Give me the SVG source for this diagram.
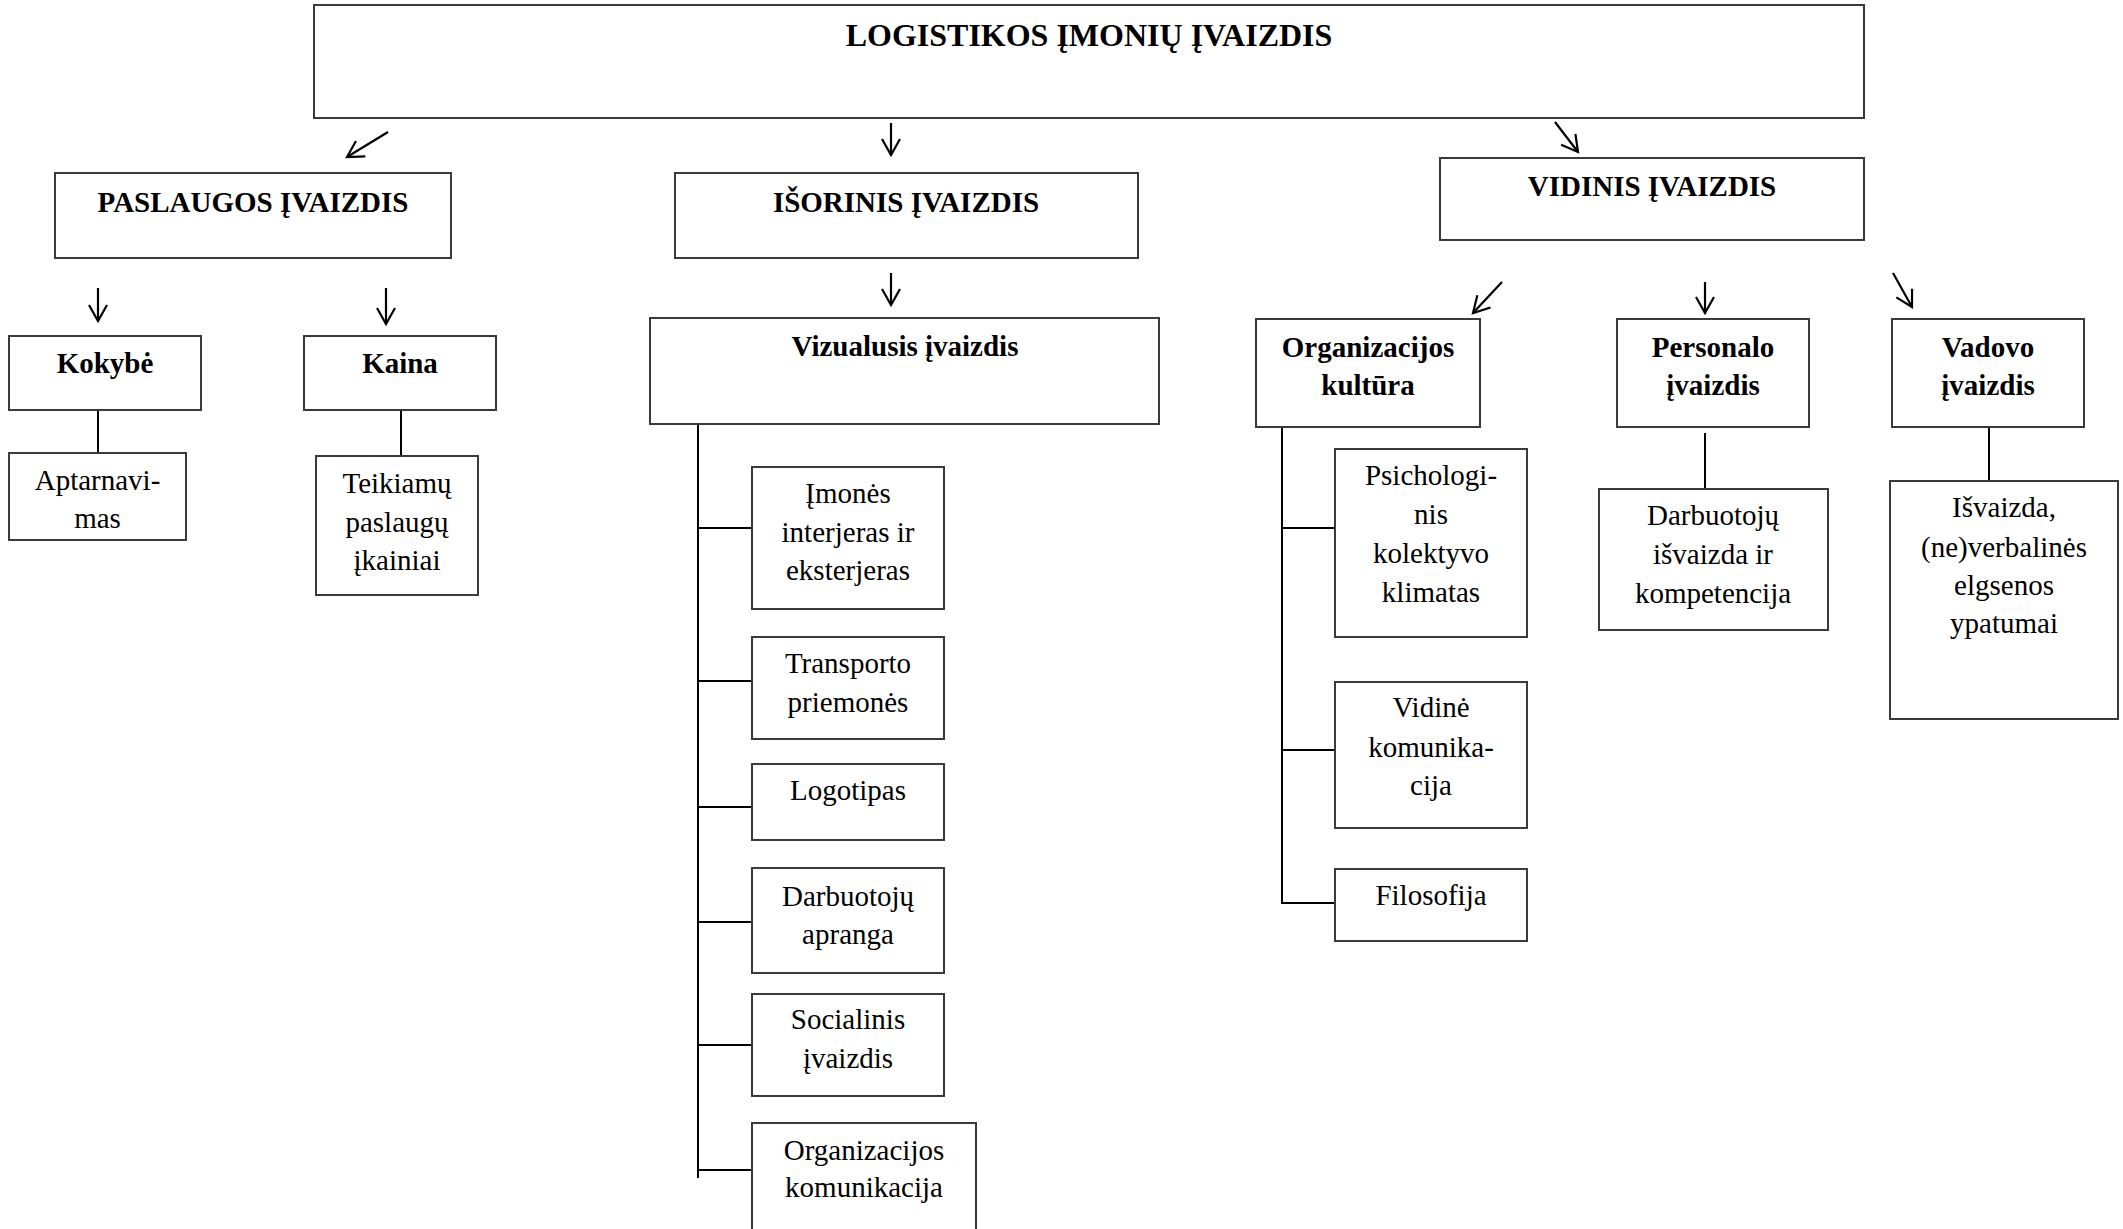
<svg xmlns="http://www.w3.org/2000/svg" width="2123" height="1229" viewBox="0 0 2123 1229">
  <style>
    .box { fill: #ffffff; stroke: #3a3a3a; stroke-width: 2; }
    .lbl { font-family: "Liberation Serif", "Times New Roman", serif; font-size: 29px; fill: #000; text-anchor: middle; }
    .b { font-weight: bold; }
    .title { font-size: 32px; }
    .wire { stroke: #000; stroke-width: 2; fill: none; }
    .arrow { stroke: #000; stroke-width: 2.2; fill: none; marker-end: url(#chev); }
  </style>
  <defs>
    <marker id="chev" markerUnits="userSpaceOnUse" markerWidth="40" markerHeight="40" refX="0" refY="0" viewBox="-20 -20 40 40" orient="auto" overflow="visible">
      <path d="M -16 -9 L 0 0 L -16 9" fill="none" stroke="#000" stroke-width="2.2" stroke-linejoin="miter"/>
    </marker>
  </defs>
  <rect width="2123" height="1229" fill="#ffffff"/>

  <!-- connectors -->
  <g id="connectors">
    <line class="arrow" x1="388" y1="132" x2="347" y2="157"/>
    <line class="arrow" x1="891" y1="123" x2="891" y2="155"/>
    <line class="arrow" x1="1555" y1="122" x2="1578" y2="152"/>
    <line class="arrow" x1="98" y1="288" x2="98" y2="321"/>
    <line class="arrow" x1="386" y1="288" x2="386" y2="324"/>
    <line class="arrow" x1="891" y1="273" x2="891" y2="305"/>
    <line class="arrow" x1="1502" y1="282" x2="1473" y2="313"/>
    <line class="arrow" x1="1705" y1="282" x2="1705" y2="313"/>
    <line class="arrow" x1="1893" y1="273" x2="1912" y2="307"/>

    <line class="wire" x1="98" y1="410" x2="98" y2="453"/>
    <line class="wire" x1="401" y1="410" x2="401" y2="456"/>

    <line class="wire" x1="698" y1="424" x2="698" y2="1178"/>
    <line class="wire" x1="698" y1="528" x2="752" y2="528"/>
    <line class="wire" x1="698" y1="681" x2="752" y2="681"/>
    <line class="wire" x1="698" y1="807" x2="752" y2="807"/>
    <line class="wire" x1="698" y1="922" x2="752" y2="922"/>
    <line class="wire" x1="698" y1="1045" x2="752" y2="1045"/>
    <line class="wire" x1="698" y1="1170" x2="752" y2="1170"/>

    <line class="wire" x1="1282" y1="427" x2="1282" y2="904"/>
    <line class="wire" x1="1282" y1="528" x2="1335" y2="528"/>
    <line class="wire" x1="1282" y1="750" x2="1335" y2="750"/>
    <line class="wire" x1="1282" y1="903" x2="1335" y2="903"/>

    <line class="wire" x1="1705" y1="433" x2="1705" y2="489"/>
    <line class="wire" x1="1989" y1="427" x2="1989" y2="481"/>
  </g>

  <!-- top level -->
  <g id="n-logistikos">
    <rect class="box" x="314" y="5" width="1550" height="113"/>
    <text class="lbl b title" x="1089" y="46">LOGISTIKOS ĮMONIŲ ĮVAIZDIS</text>
  </g>

  <!-- second level -->
  <g id="n-paslaugos">
    <rect class="box" x="55" y="173" width="396" height="85"/>
    <text class="lbl b" x="253" y="212">PASLAUGOS ĮVAIZDIS</text>
  </g>
  <g id="n-isorinis">
    <rect class="box" x="675" y="173" width="463" height="85"/>
    <text class="lbl b" x="906" y="212">IŠORINIS ĮVAIZDIS</text>
  </g>
  <g id="n-vidinis">
    <rect class="box" x="1440" y="158" width="424" height="82"/>
    <text class="lbl b" x="1652" y="196">VIDINIS ĮVAIZDIS</text>
  </g>

  <!-- service image branch -->
  <g id="n-kokybe">
    <rect class="box" x="9" y="336" width="192" height="74"/>
    <text class="lbl b" x="105" y="373">Kokybė</text>
  </g>
  <g id="n-kaina">
    <rect class="box" x="304" y="336" width="192" height="74"/>
    <text class="lbl b" x="400" y="373">Kaina</text>
  </g>
  <g id="n-aptarnavimas">
    <rect class="box" x="9" y="453" width="177" height="87"/>
    <text class="lbl" x="97.5" y="490">Aptarnavi-</text>
    <text class="lbl" x="97.5" y="528">mas</text>
  </g>
  <g id="n-ikainiai">
    <rect class="box" x="316" y="456" width="162" height="139"/>
    <text class="lbl" x="397" y="493">Teikiamų</text>
    <text class="lbl" x="397" y="532">paslaugų</text>
    <text class="lbl" x="397" y="570">įkainiai</text>
  </g>

  <!-- external image branch -->
  <g id="n-vizualusis">
    <rect class="box" x="650" y="318" width="509" height="106"/>
    <text class="lbl b" x="905" y="356">Vizualusis įvaizdis</text>
  </g>
  <g id="n-interjeras">
    <rect class="box" x="752" y="467" width="192" height="142"/>
    <text class="lbl" x="848" y="503">Įmonės</text>
    <text class="lbl" x="848" y="542">interjeras ir</text>
    <text class="lbl" x="848" y="580">eksterjeras</text>
  </g>
  <g id="n-transportas">
    <rect class="box" x="752" y="637" width="192" height="102"/>
    <text class="lbl" x="848" y="673">Transporto</text>
    <text class="lbl" x="848" y="712">priemonės</text>
  </g>
  <g id="n-logotipas">
    <rect class="box" x="752" y="764" width="192" height="76"/>
    <text class="lbl" x="848" y="800">Logotipas</text>
  </g>
  <g id="n-apranga">
    <rect class="box" x="752" y="868" width="192" height="105"/>
    <text class="lbl" x="848" y="906">Darbuotojų</text>
    <text class="lbl" x="848" y="944">apranga</text>
  </g>
  <g id="n-socialinis">
    <rect class="box" x="752" y="994" width="192" height="102"/>
    <text class="lbl" x="848" y="1029">Socialinis</text>
    <text class="lbl" x="848" y="1068">įvaizdis</text>
  </g>
  <g id="n-org-komunikacija">
    <rect class="box" x="752" y="1123" width="224" height="112"/>
    <text class="lbl" x="864" y="1160">Organizacijos</text>
    <text class="lbl" x="864" y="1197">komunikacija</text>
  </g>

  <!-- internal image branch -->
  <g id="n-kultura">
    <rect class="box" x="1256" y="319" width="224" height="108"/>
    <text class="lbl b" x="1368" y="357">Organizacijos</text>
    <text class="lbl b" x="1368" y="395">kultūra</text>
  </g>
  <g id="n-personalo">
    <rect class="box" x="1617" y="319" width="192" height="108"/>
    <text class="lbl b" x="1713" y="357">Personalo</text>
    <text class="lbl b" x="1713" y="395">įvaizdis</text>
  </g>
  <g id="n-vadovo">
    <rect class="box" x="1892" y="319" width="192" height="108"/>
    <text class="lbl b" x="1988" y="357">Vadovo</text>
    <text class="lbl b" x="1988" y="395">įvaizdis</text>
  </g>
  <g id="n-klimatas">
    <rect class="box" x="1335" y="449" width="192" height="188"/>
    <text class="lbl" x="1431" y="485">Psichologi-</text>
    <text class="lbl" x="1431" y="524">nis</text>
    <text class="lbl" x="1431" y="563">kolektyvo</text>
    <text class="lbl" x="1431" y="602">klimatas</text>
  </g>
  <g id="n-vidine-komunikacija">
    <rect class="box" x="1335" y="682" width="192" height="146"/>
    <text class="lbl" x="1431" y="717">Vidinė</text>
    <text class="lbl" x="1431" y="757">komunika-</text>
    <text class="lbl" x="1431" y="795">cija</text>
  </g>
  <g id="n-filosofija">
    <rect class="box" x="1335" y="869" width="192" height="72"/>
    <text class="lbl" x="1431" y="905">Filosofija</text>
  </g>
  <g id="n-kompetencija">
    <rect class="box" x="1599" y="489" width="229" height="141"/>
    <text class="lbl" x="1713" y="525">Darbuotojų</text>
    <text class="lbl" x="1713" y="564">išvaizda ir</text>
    <text class="lbl" x="1713" y="603">kompetencija</text>
  </g>
  <g id="n-elgsena">
    <rect class="box" x="1890" y="481" width="228" height="238"/>
    <text class="lbl" x="2004" y="517">Išvaizda,</text>
    <text class="lbl" x="2004" y="557">(ne)verbalinės</text>
    <text class="lbl" x="2004" y="595">elgsenos</text>
    <text class="lbl" x="2004" y="633">ypatumai</text>
  </g>
</svg>
